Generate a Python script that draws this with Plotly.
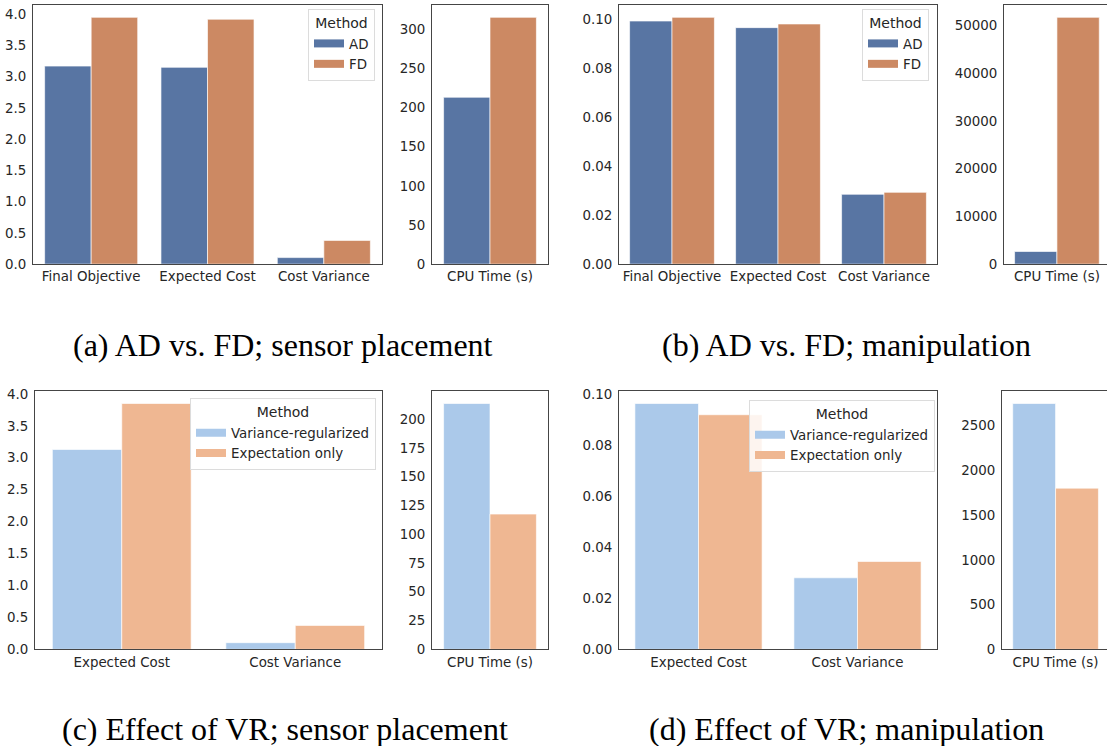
import plotly.graph_objects as go

W, H = 1107, 746

# ---------------- data ----------------
ab_cats = ["Final Objective", "Expected Cost", "Cost Variance"]
cd_cats = ["Expected Cost", "Cost Variance"]
cpu_cat = ["CPU Time (s)"]

a_ad = [3.17, 3.15, 0.105]
a_fd = [3.95, 3.92, 0.38]
a_cpu_ad = [213]
a_cpu_fd = [315]

b_ad = [0.0992, 0.0965, 0.0285]
b_fd = [0.1007, 0.0980, 0.0293]
b_cpu_ad = [2650]
b_cpu_fd = [51700]

c_vr = [3.13, 0.105]
c_eo = [3.85, 0.375]
c_cpu_vr = [213.5]
c_cpu_eo = [117.5]

d_vr = [0.0965, 0.0281]
d_eo = [0.0921, 0.0345]
d_cpu_vr = [2745]
d_cpu_eo = [1800]

names_ab = ["AD", "FD"]
names_cd = ["Variance-regularized", "Expectation only"]
captions = ["(a) AD vs. FD; sensor placement", "(b) AD vs. FD; manipulation",
            "(c) Effect of VR; sensor placement", "(d) Effect of VR; manipulation"]

# ---------------- style ----------------
DEEP = ["#5875A3", "#CC8963"]
PASTEL = ["#ABC9EA", "#EFB792"]
TXT = "#262626"
LINE = "#454545"
FONT = "DejaVu Sans"
TICK_SIZE = 13.4

# vertical calibration of the photographed page
V_OFF, V_SCALE = 4.0, 0.982


def vy(y):
    """target pixel row -> fraction of paper height (from bottom)"""
    yy = max(0.0, (y - V_OFF) / V_SCALE)
    return min(1.0, max(0.0, 1 - yy / H))


def px_x(a, b):
    return [a / W, min(b / W, 1.0)]


def px_y(top, bot):
    return [vy(bot), vy(top)]


panels = [
    (px_x(33, 382), px_y(3, 263)),
    (px_x(432, 548), px_y(3, 263)),
    (px_x(619, 937), px_y(3, 263)),
    (px_x(1004, 1107), px_y(3, 263)),
    (px_x(35, 382), px_y(390, 648)),
    (px_x(432, 548), px_y(390, 648)),
    (px_x(619, 937), px_y(390, 648)),
    (px_x(1002, 1107), px_y(390, 648)),
]

fig = go.Figure()

series = [
    (ab_cats, [a_ad, a_fd], names_ab, DEEP, "legend", True),
    (cpu_cat, [a_cpu_ad, a_cpu_fd], names_ab, DEEP, "legend", False),
    (ab_cats, [b_ad, b_fd], names_ab, DEEP, "legend2", True),
    (cpu_cat, [b_cpu_ad, b_cpu_fd], names_ab, DEEP, "legend2", False),
    (cd_cats, [c_vr, c_eo], names_cd, PASTEL, "legend3", True),
    (cpu_cat, [c_cpu_vr, c_cpu_eo], names_cd, PASTEL, "legend3", False),
    (cd_cats, [d_vr, d_eo], names_cd, PASTEL, "legend4", True),
    (cpu_cat, [d_cpu_vr, d_cpu_eo], names_cd, PASTEL, "legend4", False),
]

tickspecs = [
    (0.5, ".1f"), (50, "d"), (0.02, ".2f"), (10000, "d"),
    (0.5, ".1f"), (25, "d"), (0.02, ".2f"), (500, "d"),
]

xranges = [None, None, None, [-0.5, 0.473], None, None, None, [-0.5, 0.48]]

layout = {}
for i, (cats, vals, names, cols, leg, showleg) in enumerate(series):
    k = i + 1
    xa = "x" if k == 1 else f"x{k}"
    ya = "y" if k == 1 else f"y{k}"
    for j in range(2):
        fig.add_trace(go.Bar(
            x=cats, y=vals[j], name=names[j], xaxis=xa, yaxis=ya,
            marker=dict(color=cols[j], line=dict(color="rgba(255,255,255,0.8)", width=0.8)),
            showlegend=False,
        ))
        if showleg:
            # legend swatch (wide rectangle like the matplotlib patch)
            fig.add_trace(go.Scatter(
                x=[cats[0]], y=[None], mode="lines", name=names[j],
                xaxis=xa, yaxis=ya, line=dict(color=cols[j], width=8),
                legend=leg, showlegend=True, hoverinfo="skip",
            ))
    ymax = max(max(v) for v in vals) * 1.05
    xdom, ydom = panels[i]
    dtick, fmt = tickspecs[i]
    cut = xranges[i] is not None
    xdict = dict(domain=xdom, anchor=ya, showline=True, mirror=True, linecolor=LINE,
                 linewidth=1.1, showgrid=False, zeroline=False, ticks="",
                 tickfont=dict(family=FONT, size=TICK_SIZE, color=TXT), fixedrange=True)
    xdict["range"] = xranges[i] if cut else [-0.5, len(cats) - 0.5]
    ydict = dict(domain=ydom, anchor=xa, range=[0, ymax], showline=True,
                 mirror=not cut, linecolor=LINE, linewidth=1.1, showgrid=False,
                 zeroline=False, ticks="", dtick=dtick, tick0=0, tickformat=fmt,
                 tickfont=dict(family=FONT, size=TICK_SIZE, color=TXT),
                 ticklabelstandoff=3, fixedrange=True)
    layout["xaxis" if k == 1 else f"xaxis{k}"] = xdict
    layout["yaxis" if k == 1 else f"yaxis{k}"] = ydict

legend_common = dict(
    bgcolor="rgba(255,255,255,0.85)", bordercolor="#dcdcdc", borderwidth=1,
    font=dict(family=FONT, size=TICK_SIZE, color=TXT), xanchor="right", yanchor="top",
    tracegroupgap=0,
)
legend_pos = [(375, 8), (929, 8), (376, 397), (935, 399)]
for n, (lx, ly) in enumerate(legend_pos):
    key = "legend" if n == 0 else f"legend{n + 1}"
    layout[key] = dict(legend_common, x=lx / W, y=vy(ly),
                       title=dict(text="Method", side="top center",
                                  font=dict(family=FONT, size=14, color=TXT)))

cap_pos = [(283, 344), (846, 344), (285, 728), (846, 728)]
annotations = []
for text, (cx, cy) in zip(captions, cap_pos):
    annotations.append(dict(
        text=text, x=cx / W, y=vy(cy), xref="paper", yref="paper",
        showarrow=False, xanchor="center", yanchor="middle",
        font=dict(family="Liberation Serif", size=32, color="black"),
    ))

fig.update_layout(
    width=W, height=H, margin=dict(l=0, r=0, t=0, b=0),
    paper_bgcolor="white", plot_bgcolor="white",
    barmode="group", bargap=0.2, bargroupgap=0,
    annotations=annotations, **layout,
)

post = (
    "document.documentElement.style.margin='0';"
    "document.documentElement.style.overflow='hidden';"
    "document.body.style.margin='0';document.body.style.padding='0';"
    "document.body.style.overflow='hidden';"
    "var gd=document.getElementById('{plot_id}');"
    "gd.style.overflow='hidden';gd.style.lineHeight='0';"
    "document.querySelectorAll('.svg-container').forEach(function(e){e.style.verticalAlign='top';});"
)

fig.write_html("out.html", config={"displayModeBar": False}, post_script=post)
